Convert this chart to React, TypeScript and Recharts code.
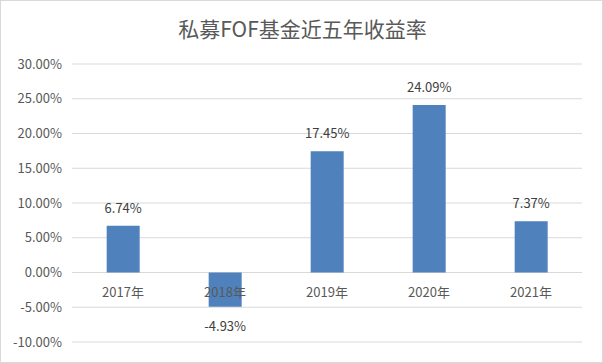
import React from 'react'
import { BarChart, Bar, XAxis, YAxis, CartesianGrid, LabelList } from 'recharts'

const categories = ['2017年', '2018年', '2019年', '2020年', '2021年']
const returns = [6.74, -4.93, 17.45, 24.09, 7.37]
const yTicks = [-10, -5, 0, 5, 10, 15, 20, 25, 30]

const W = 603
const H = 363
const MARGIN = { top: 64, right: 21, bottom: 1, left: 0 }
const X_AXIS_H = 20
const DOMAIN: [number, number] = [-10, 30]
const FONT = "'Noto Sans CJK SC', 'Noto Sans', sans-serif"

const data = categories.map((name, i) => ({ name, value: returns[i] }))

// y pixel of the zero line, from the plot area and domain
const plotTop = MARGIN.top
const plotBottom = H - MARGIN.bottom - X_AXIS_H
const zeroY = plotBottom - ((0 - DOMAIN[0]) / (DOMAIN[1] - DOMAIN[0])) * (plotBottom - plotTop)

const fmt = (v: number) => `${v.toFixed(2)}%`

function CategoryTick(props: any) {
    const { x, payload } = props
    return (
        <text x={x} y={zeroY + 24} textAnchor="middle" fill="#595959" fontSize={13} fontFamily={FONT}>
            {payload.value}
        </text>
    )
}

function ValueLabel(props: any) {
    const { x, y, width, height, value } = props
    const top = Math.min(y, y + height)
    const bottom = Math.max(y, y + height)
    const cx = x + width / 2
    if (value >= 0) {
        return (
            <text x={cx} y={top - 13} textAnchor="middle" fill="#404040" fontSize={13} fontFamily={FONT}>
                {fmt(value)}
            </text>
        )
    }
    return (
        <text x={cx} y={bottom + 24} textAnchor="middle" fill="#404040" fontSize={13} fontFamily={FONT}>
            {fmt(value)}
        </text>
    )
}

export default function App() {
    return (
        <div style={{ position: 'absolute', left: 0, top: 0, width: W, height: H, background: '#fff', boxSizing: 'border-box', border: '1px solid #d9d9d9' }}>
            <div style={{ position: 'absolute', left: 0, top: 12, width: W, textAlign: 'center', fontFamily: FONT, fontSize: 21, color: '#595959' }}>
                私募FOF基金近五年收益率
            </div>
            <div style={{ position: 'absolute', left: -1, top: -1 }}>
                <BarChart width={W} height={H} data={data} margin={MARGIN} barCategoryGap="34%">
                    <CartesianGrid vertical={false} stroke="#d9d9d9" />
                    <XAxis dataKey="name" height={X_AXIS_H} axisLine={false} tickLine={false} tick={<CategoryTick />} interval={0} />
                    <YAxis
                        width={72}
                        domain={DOMAIN}
                        ticks={yTicks}
                        tickFormatter={fmt}
                        axisLine={false}
                        tickLine={false}
                        tickSize={0}
                        tickMargin={10}
                        tick={{ fill: '#595959', fontSize: 13, fontFamily: FONT }}
                    />
                    <Bar dataKey="value" fill="#4f81bd" isAnimationActive={false}>
                        <LabelList dataKey="value" content={<ValueLabel />} />
                    </Bar>
                </BarChart>
            </div>
        </div>
    )
}
